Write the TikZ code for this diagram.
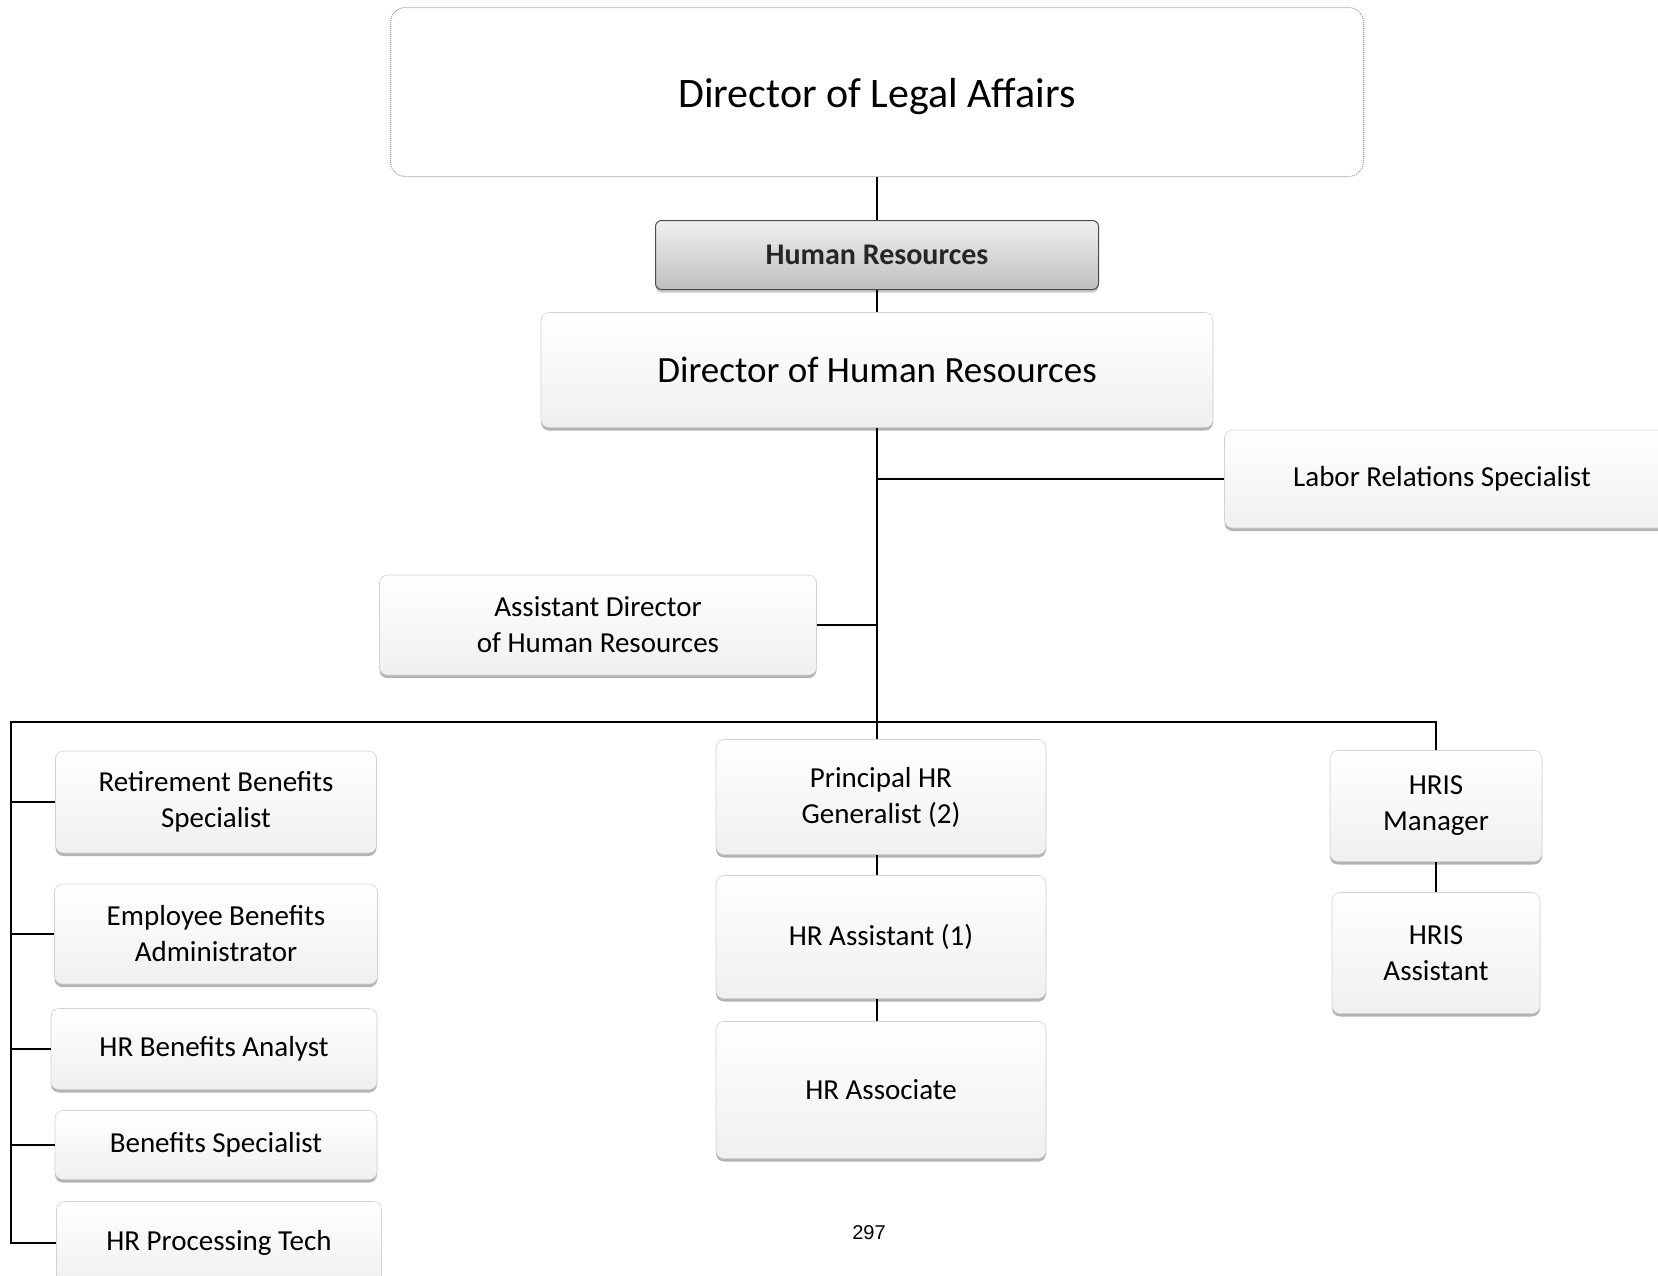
\documentclass[tikz,border=0pt]{standalone}
\usepackage{fontspec}
\setmainfont{Carlito}
\newfontfamily\pgnumfont{Liberation Sans}
\usetikzlibrary{shadows}
\begin{document}
\begin{tikzpicture}[x=1pt,y=-1pt,
  orgbox/.style={draw=gray!35, line width=0.6pt, rounded corners=8pt,
    top color=white, bottom color=gray!12, align=center, inner sep=0pt,
    font=\fontsize{29}{36}\selectfont,
    drop shadow={shadow xshift=0pt, shadow yshift=-3pt, fill=gray!85, opacity=0.7}},
  hrbox/.style={draw=black!70, line width=1pt, rounded corners=6pt,
    top color=gray!12, bottom color=gray!50, align=center, inner sep=0pt,
    font=\fontsize{30}{36}\selectfont\bfseries, text=black!85,
    drop shadow={shadow xshift=0pt, shadow yshift=-3pt, fill=gray!70, opacity=0.6}},
  legalbox/.style={draw=gray!80, densely dotted, line width=1pt, rounded corners=15pt,
    fill=white, align=center, inner sep=0pt, font=\fontsize{42}{48}\selectfont,
    text height=31pt, text depth=0pt},
  link/.style={draw=black, line width=1.6pt}]
\useasboundingbox (0,0) rectangle (1658,1275);
\fill[white] (0,0) rectangle (1658,1275);

% top
\node[legalbox, minimum width=973pt, minimum height=169pt] (legal) at (877,92) {Director of Legal Affairs};
\node[hrbox, minimum width=443pt, minimum height=69pt] (hr) at (877,255) {Human Resources};
\node[orgbox, minimum width=672pt, minimum height=115pt, font=\fontsize{37}{44}\selectfont] (dhr) at (877,370) {Director of Human Resources};
\node[orgbox, minimum width=455pt, minimum height=98pt] (labor) at (1452,479) {\hspace*{-10pt}Labor Relations Specialist\hspace*{10pt}};
\node[orgbox, minimum width=437pt, minimum height=100pt] (asst) at (598,625) {Assistant Director\\of Human Resources};

% middle column
\node[orgbox, minimum width=330pt, minimum height=115pt] (phr) at (881,797) {Principal HR\\Generalist (2)};
\node[orgbox, minimum width=330pt, minimum height=123pt] (hra) at (881,937) {HR Assistant (1)};
\node[orgbox, minimum width=330pt, minimum height=137pt] (hrassoc) at (881,1090) {HR Associate};

% right column
\node[orgbox, minimum width=212pt, minimum height=111pt] (hrism) at (1436,806) {HRIS\\Manager};
\node[orgbox, minimum width=208pt, minimum height=121pt] (hrisa) at (1436,953) {HRIS\\Assistant};

% left column
\node[orgbox, minimum width=321pt, minimum height=102pt] (rbs) at (216,802) {Retirement Benefits\\Specialist};
\node[orgbox, minimum width=323pt, minimum height=100pt] (eba) at (216,934) {Employee Benefits\\Administrator};
\node[orgbox, minimum width=326pt, minimum height=81pt] (hrba) at (214,1049) {HR Benefits Analyst};
\node[orgbox, minimum width=322pt, minimum height=69pt] (bs) at (216,1145) {Benefits Specialist};
\node[orgbox, minimum width=325pt, minimum height=83pt] (hrpt) at (219,1243) {HR Processing Tech};

% page number
\node[font=\pgnumfont\fontsize{20}{24}\selectfont, inner sep=0pt] (pg) at (869,1233) {297};

% connectors
\coordinate (busL) at (11,722);
\draw[link] (legal.south) -- (hr.north);
\draw[link] (hr.south) -- (dhr.north);
\draw[link] (dhr.south) -- (dhr.south |- phr.north);
\draw[link] (dhr.south |- labor.west) -- (labor.west);
\draw[link] (asst.east) -- (asst.east -| dhr.south);
\draw[link] (hrism.north) |- (busL) -- (busL |- hrpt.west) -- (hrpt.west);
\draw[link] (busL |- rbs.west) -- (rbs.west);
\draw[link] (busL |- eba.west) -- (eba.west);
\draw[link] (busL |- hrba.west) -- (hrba.west);
\draw[link] (busL |- bs.west) -- (bs.west);
\draw[link] (phr.south -| dhr.south) -- (hra.north -| dhr.south);
\draw[link] (hra.south -| dhr.south) -- (hrassoc.north -| dhr.south);
\draw[link] (hrism.south) -- (hrisa.north);
\end{tikzpicture}
\end{document}
